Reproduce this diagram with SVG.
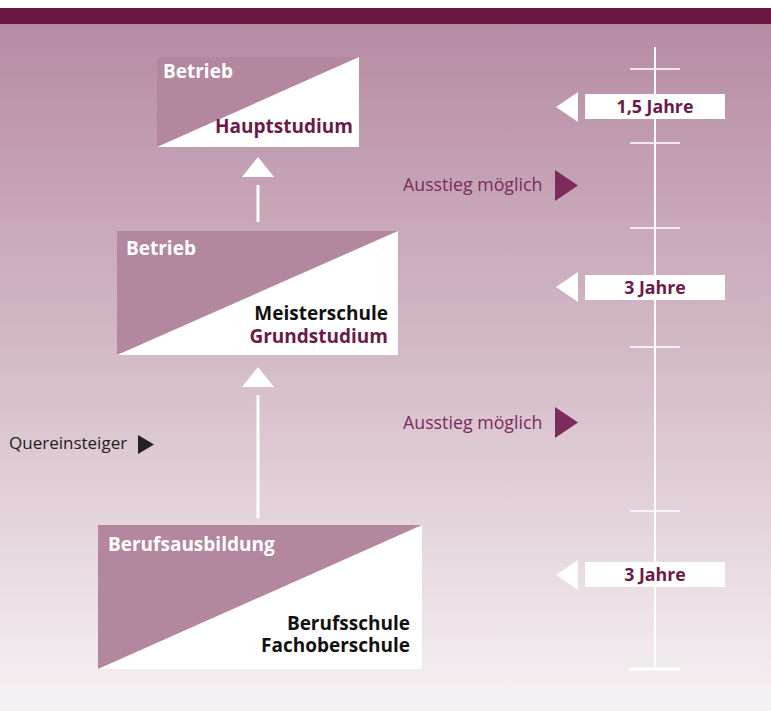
<svg xmlns="http://www.w3.org/2000/svg" width="771" height="711" viewBox="0 0 771 711">
<defs>
<linearGradient id="bg" x1="0" y1="24" x2="0" y2="711" gradientUnits="userSpaceOnUse">
<stop offset="0" stop-color="#b68ca3"/>
<stop offset="0.5" stop-color="#d5bcc9"/>
<stop offset="1" stop-color="#f6f2f4"/>
</linearGradient>
<style>
.box{fill:#fff}
.tri{fill:#b3889e}
.wt{font-family:"Open Sans","Liberation Sans",sans-serif;font-weight:bold;font-size:19px;fill:#fff}
.bk{font-family:"Open Sans","Liberation Sans",sans-serif;font-weight:bold;font-size:19px;fill:#111;text-anchor:end}
.pu{font-family:"Open Sans","Liberation Sans",sans-serif;font-weight:bold;font-size:19px;fill:#6b1a48;text-anchor:end}
.lab{font-family:"Open Sans","Liberation Sans",sans-serif;font-weight:bold;font-size:17.8px;fill:#6b1a48;text-anchor:middle}
.aus{font-family:"Open Sans","Liberation Sans",sans-serif;font-size:17.8px;fill:#7b2c5a}
.que{font-family:"Open Sans","Liberation Sans",sans-serif;font-size:17px;fill:#222}
.tick{stroke:#fff;stroke-opacity:0.75;stroke-width:2}
</style>
</defs>
<rect x="0" y="0" width="771" height="711" fill="#fff"/>
<rect x="0" y="24" width="771" height="687" fill="url(#bg)"/>
<rect x="0" y="8" width="771" height="16" fill="#6a1944"/>

<g id="timeline">
<line x1="655" y1="47" x2="655" y2="669" stroke="#fff" stroke-width="2"/>
<line class="tick" x1="630" y1="69" x2="680" y2="69"/>
<line class="tick" x1="630" y1="143" x2="680" y2="143"/>
<line class="tick" x1="630" y1="228" x2="680" y2="228"/>
<line class="tick" x1="630" y1="347" x2="680" y2="347"/>
<line class="tick" x1="630" y1="511" x2="680" y2="511"/>
<line x1="630" y1="669" x2="680" y2="669" stroke="#fff" stroke-width="3"/>
</g>

<g id="label-15">
<polygon points="556,107 578,92 578,122" fill="#fff"/>
<rect x="585" y="94" width="140" height="25" fill="#fff"/>
<text class="lab" x="655" y="112.5">1,5 Jahre</text>
</g>
<g id="label-3a">
<polygon points="556,287 578,272 578,302" fill="#fff"/>
<rect x="585" y="275" width="140" height="25" fill="#fff"/>
<text class="lab" x="655" y="293.5">3 Jahre</text>
</g>
<g id="label-3b">
<polygon points="556,575 578,560 578,590" fill="#fff"/>
<rect x="585" y="562" width="140" height="25" fill="#fff"/>
<text class="lab" x="655" y="580.5">3 Jahre</text>
</g>

<g id="connectors">
<polygon points="258,157 274,177 242,177" fill="#fff"/>
<line x1="258" y1="185" x2="258" y2="222" stroke="#fff" stroke-width="3"/>
<polygon points="258,367 274,387 242,387" fill="#fff"/>
<line x1="258" y1="395" x2="258" y2="518" stroke="#fff" stroke-width="3"/>
</g>

<g id="box-hauptstudium">
<rect class="box" x="157" y="57" width="202" height="90"/>
<polygon class="tri" points="157,57 359,57 157,147"/>
<text class="wt" x="163" y="78">Betrieb</text>
<text class="pu" x="353" y="133">Hauptstudium</text>
</g>

<g id="box-grundstudium">
<rect class="box" x="117" y="231" width="281" height="124"/>
<polygon class="tri" points="117,231 398,231 117,355"/>
<text class="wt" x="126" y="255">Betrieb</text>
<text class="bk" x="388" y="320">Meisterschule</text>
<text class="pu" x="388" y="343">Grundstudium</text>
</g>

<g id="box-berufsausbildung">
<rect class="box" x="98" y="525" width="324" height="144"/>
<polygon class="tri" points="98,525 422,525 98,669"/>
<text class="wt" x="108" y="551">Berufsausbildung</text>
<text class="bk" x="410" y="630">Berufsschule</text>
<text class="bk" x="410" y="652">Fachoberschule</text>
</g>

<g id="ausstieg-1">
<text class="aus" x="403" y="191">Ausstieg möglich</text>
<polygon points="555,170 578,185.5 555,201" fill="#7b2c5a"/>
</g>
<g id="ausstieg-2">
<text class="aus" x="403" y="429">Ausstieg möglich</text>
<polygon points="555,407 578,422.5 555,438" fill="#7b2c5a"/>
</g>
<g id="quereinsteiger">
<text class="que" x="9" y="449">Quereinsteiger</text>
<polygon points="138,435 154,444.5 138,454" fill="#222"/>
</g>
</svg>
